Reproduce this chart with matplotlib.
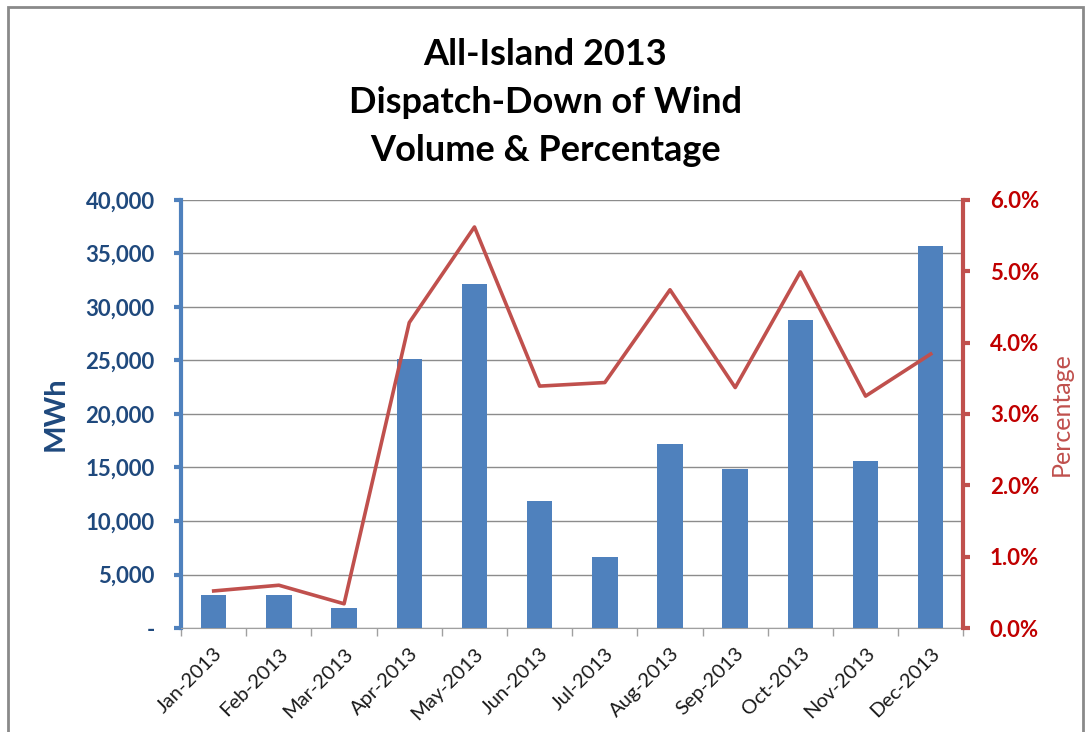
import matplotlib
matplotlib.use('Agg')
import matplotlib.pyplot as plt
import matplotlib.patches as patches
from matplotlib.ticker import FuncFormatter, MultipleLocator
import numpy as np

matplotlib.rcParams['font.family'] = ['Lato', 'DejaVu Sans']

months = ['Jan-2013', 'Feb-2013', 'Mar-2013', 'Apr-2013', 'May-2013', 'Jun-2013',
          'Jul-2013', 'Aug-2013', 'Sep-2013', 'Oct-2013', 'Nov-2013', 'Dec-2013']
volume = [3050, 3050, 1870, 25100, 32100, 11850, 6650, 17200, 14850, 28800, 15600, 35700]
pct = [0.52, 0.60, 0.34, 4.28, 5.62, 3.39, 3.44, 4.74, 3.37, 4.99, 3.25, 3.84]

blue = '#4F81BD'
red = '#C0504D'
dblue = '#1F497D'
dred = '#C00000'

fig = plt.figure(figsize=(10.91, 7.32), dpi=100)
ax = fig.add_axes([0.166, 0.142, 0.717, 0.585])
ax2 = ax.twinx()

x = np.arange(len(months))
ax.bar(x, volume, width=0.39, color=blue, zorder=3)
ax2.plot(x, pct, color=red, linewidth=2.6, zorder=4)

ax.set_xlim(-0.5, 11.5)
ax.set_ylim(0, 40000)
ax2.set_ylim(0, 6)
ax.yaxis.set_major_locator(MultipleLocator(5000))
ax2.yaxis.set_major_locator(MultipleLocator(1))
ax.yaxis.set_major_formatter(FuncFormatter(lambda v, p: '-' if v == 0 else '{:,.0f}'.format(v)))
ax2.yaxis.set_major_formatter(FuncFormatter(lambda v, p: '{:.1f}%'.format(v)))

ax.grid(axis='y', color='#8c8c8c', linewidth=1.0, zorder=0)
ax.set_axisbelow(True)

# x ticks: labels at centres, tick marks at boundaries
ax.set_xticks(x)
ax.set_xticklabels(months, rotation=45, ha='right', rotation_mode='anchor', fontsize=14.5, color='#1a1a1a')
ax.tick_params(axis='x', which='major', length=0, pad=12)
ax.set_xticks(np.arange(-0.5, 12, 1), minor=True)
ax.tick_params(axis='x', which='minor', length=6, color='#a0a0a0', width=1)

for a in (ax, ax2):
    a.spines['top'].set_visible(False)
ax.spines['right'].set_visible(False)
ax2.spines['left'].set_visible(False)
ax.spines['bottom'].set_color('#a0a0a0')
ax2.spines['bottom'].set_visible(False)
ax.spines['left'].set_color(blue)
ax.spines['left'].set_linewidth(3)
ax2.spines['right'].set_color(red)
ax2.spines['right'].set_linewidth(3)

ax.tick_params(axis='y', length=5, width=3, color=blue, labelsize=16, labelcolor=dblue, pad=14)
ax2.tick_params(axis='y', length=5, width=3, color=red, labelsize=16, labelcolor=dred, pad=14)
for lab in ax.get_yticklabels():
    lab.set_fontweight('bold')
for lab in ax2.get_yticklabels():
    lab.set_fontweight('bold')

ax.set_ylabel('MWh', fontsize=21, fontweight='bold', color=dblue, labelpad=12)
ax2.set_ylabel('Percentage', fontsize=18, color=red, labelpad=8)

fig.text(0.5, 0.948, 'All-Island 2013\nDispatch-Down of Wind\nVolume & Percentage',
         ha='center', va='top', fontsize=26, fontweight='bold', linespacing=1.56)

# outer chart frame
fig.patches.append(patches.Rectangle((0.007, -0.01), 0.986, 1.0, transform=fig.transFigure,
                                     fill=False, edgecolor='#8a8a8a', linewidth=2))

plt.savefig('out.png', dpi=100)
